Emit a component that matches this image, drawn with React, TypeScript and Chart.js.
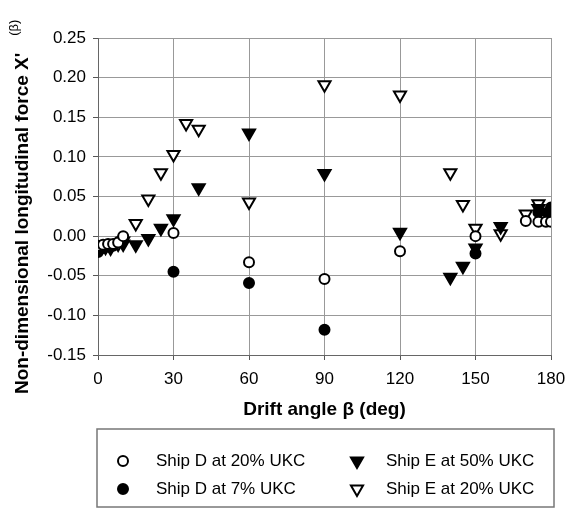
import { useEffect, useRef } from 'react';
import { Chart, registerables } from 'chart.js';

Chart.register(...registerables);

const FONT = '"Liberation Sans", Arial, sans-serif';

// Drift angle (deg) and X' values per series
const angD20 = [0, 2, 4, 6, 8, 10, 30, 60, 90, 120, 150, 170, 175, 178, 180];
const valD20 = [-0.012, -0.011, -0.01, -0.01, -0.008, 0.0, 0.004, -0.033, -0.054, -0.019, 0.0, 0.019, 0.018, 0.018, 0.018];

const angD7 = [0, 2, 4, 6, 8, 10, 30, 60, 90, 150, 175, 180];
const valD7 = [-0.02, -0.015, -0.013, -0.012, -0.008, -0.002, -0.045, -0.059, -0.118, -0.022, 0.03, 0.036];

const angE50 = [0, 5, 10, 15, 20, 25, 30, 40, 60, 90, 120, 140, 145, 150, 160, 175, 178, 180];
const valE50 = [-0.015, -0.012, -0.01, -0.011, -0.003, 0.01, 0.022, 0.061, 0.13, 0.079, 0.005, -0.052, -0.038, -0.015, 0.012, 0.035, 0.03, 0.03];

const angE20 = [0, 3, 5, 8, 10, 15, 20, 25, 30, 35, 40, 60, 90, 120, 140, 145, 150, 160, 170, 175, 180];
const valE20 = [-0.013, -0.014, -0.015, -0.01, -0.006, 0.016, 0.047, 0.08, 0.103, 0.142, 0.135, 0.043, 0.191, 0.178, 0.08, 0.04, 0.01, 0.003, 0.028, 0.041, 0.028];

const xTicks = [0, 30, 60, 90, 120, 150, 180];
const yTicks = [-0.15, -0.1, -0.05, 0, 0.05, 0.1, 0.15, 0.2, 0.25];

const xTitle = 'Drift angle \u03b2 (deg)';
const yTitle = "Non-dimensional longitudinal force X'";
const yTitleSup = '(\u03b2)';

const toPts = (xs: number[], ys: number[]) => xs.map((x, i) => ({ x, y: ys[i] }));

function drawMarker(ctx: CanvasRenderingContext2D, style: string, x: number, y: number, r: number, fill: string) {
  ctx.save();
  ctx.beginPath();
  if (style === 'circle') {
    ctx.arc(x, y, r, 0, Math.PI * 2);
  } else {
    const a0 = Math.PI;
    for (let k = 0; k < 3; k++) {
      const a = a0 + (k * 2 * Math.PI) / 3;
      const px = x + Math.sin(a) * r;
      const py = y - Math.cos(a) * r;
      if (k === 0) ctx.moveTo(px, py);
      else ctx.lineTo(px, py);
    }
    ctx.closePath();
  }
  ctx.fillStyle = fill;
  ctx.fill();
  ctx.lineWidth = 2;
  ctx.strokeStyle = '#000';
  ctx.stroke();
  ctx.restore();
}

const decorPlugin = {
  id: 'decor',
  afterDraw(chart: any) {
    const ctx: CanvasRenderingContext2D = chart.ctx;
    const area = chart.chartArea;
    ctx.save();
    ctx.fillStyle = '#000';
    ctx.font = `bold 19px ${FONT}`;
    ctx.textAlign = 'center';
    ctx.textBaseline = 'middle';
    ctx.fillText(xTitle, (area.left + area.right) / 2, 410);

    ctx.save();
    ctx.translate(23, 394);
    ctx.rotate(-Math.PI / 2);
    ctx.textAlign = 'left';
    ctx.textBaseline = 'middle';
    ctx.font = `bold 19px ${FONT}`;
    const w = ctx.measureText(yTitle).width;
    ctx.fillText(yTitle, 0, 0);
    ctx.font = `13px ${FONT}`;
    ctx.fillText(yTitleSup, w + 17, -9);
    ctx.restore();

    const bx = 97, by = 429, bw = 457, bh = 78;
    ctx.strokeStyle = '#777';
    ctx.lineWidth = 1.5;
    ctx.strokeRect(bx, by, bw, bh);

    const slots = [
      { mx: 123, tx: 156, y: 461 },
      { mx: 123, tx: 156, y: 489 },
      { mx: 357, tx: 386, y: 461 },
      { mx: 357, tx: 386, y: 489 },
    ];
    ctx.font = `17px ${FONT}`;
    ctx.textAlign = 'left';
    ctx.textBaseline = 'middle';
    chart.data.datasets.forEach((ds: any, i: number) => {
      const s = slots[i];
      drawMarker(ctx, ds.pointStyle, s.mx, s.y, ds.pointStyle === 'circle' ? 5 : 7, ds.pointBackgroundColor);
      ctx.fillStyle = '#000';
      ctx.fillText(ds.label, s.tx, s.y);
    });
    ctx.restore();
  },
};

export default function App() {
  const ref = useRef<HTMLCanvasElement>(null);
  useEffect(() => {
    const canvas = ref.current!;
    const mk = (label: string, xs: number[], ys: number[], style: string, fill: string) => ({
      label,
      data: toPts(xs, ys),
      pointStyle: style,
      pointRotation: style === 'triangle' ? 180 : 0,
      pointRadius: style === 'circle' ? 5 : 7,
      pointBackgroundColor: fill,
      pointBorderColor: '#000',
      pointBorderWidth: 2,
      showLine: false,
    });
    const chart = new Chart(canvas, {
      type: 'scatter',
      data: {
        datasets: [
          mk('Ship D at 20% UKC', angD20, valD20, 'circle', '#fff'),
          mk('Ship D at 7% UKC', angD7, valD7, 'circle', '#000'),
          mk('Ship E at 50% UKC', angE50, valE50, 'triangle', '#000'),
          mk('Ship E at 20% UKC', angE20, valE20, 'triangle', '#fff'),
        ] as any,
      },
      options: {
        responsive: false,
        animation: false,
        layout: { padding: { left: 0, top: 38, right: 15, bottom: 95 } },
        plugins: { legend: { display: false }, tooltip: { enabled: false } },
        scales: {
          x: {
            type: 'linear',
            min: 0,
            max: 180,
            afterFit: (s: any) => { s.height = 60; s.paddingLeft = 0; s.paddingRight = 0; },
            afterBuildTicks: (s: any) => { s.ticks = xTicks.map((v) => ({ value: v })); },
            ticks: {
              color: '#000',
              font: { family: FONT, size: 17 },
              padding: 9,
              maxRotation: 0,
            },
            grid: { color: '#999', lineWidth: 1, tickLength: 5, tickColor: '#555' },
            border: { color: '#666', width: 1 },
          },
          y: {
            type: 'linear',
            min: -0.15,
            max: 0.25,
            afterFit: (s: any) => { s.width = 98; s.paddingTop = 0; s.paddingBottom = 0; },
            afterBuildTicks: (s: any) => { s.ticks = yTicks.map((v) => ({ value: v })); },
            ticks: {
              color: '#000',
              font: { family: FONT, size: 17 },
              padding: 7,
              callback: (v: any) => Number(v).toFixed(2),
            },
            grid: { color: '#999', lineWidth: 1, tickLength: 5, tickColor: '#555' },
            border: { color: '#666', width: 1 },
          },
        },
      },
      plugins: [decorPlugin],
    });
    return () => chart.destroy();
  }, []);
  return (
    <div style={{ position: 'fixed', left: 0, top: 0, width: 566, height: 510, background: '#fff' }}>
      <canvas ref={ref} width={566} height={510} />
    </div>
  );
}
